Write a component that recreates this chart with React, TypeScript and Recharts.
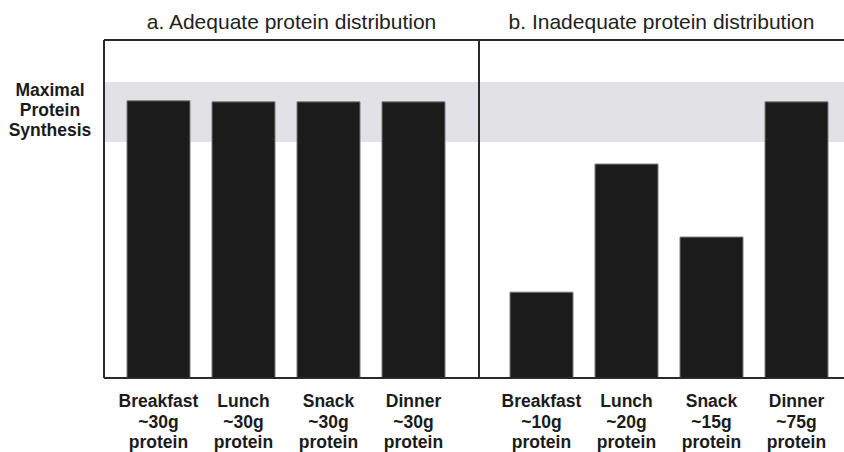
import React from 'react';
import { BarChart, Bar, XAxis, YAxis, ReferenceArea, ReferenceLine, Label } from 'recharts';

const meals = ['Breakfast', 'Lunch', 'Snack', 'Dinner'];
const adequateGrams = ['~30g', '~30g', '~30g', '~30g'];
const inadequateGrams = ['~10g', '~20g', '~15g', '~75g'];
const adequateSynthesis = [82, 81.7, 81.7, 81.7];
const inadequateSynthesis = [25.4, 63.3, 41.7, 81.7];
const synthesisBand = [69.8, 87.6];
const bandLabel = ['Maximal', 'Protein', 'Synthesis'];
const panelTitles = ['a. Adequate protein distribution', 'b. Inadequate protein distribution'];

const FONT = '"Liberation Sans", Arial, Helvetica, sans-serif';
const INK = '#1b1b1b';

const buildData = (values: number[], grams: string[]) =>
  meals.map((m, i) => ({ meal: m, grams: grams[i], value: values[i] }));

const adequateData = buildData(adequateSynthesis, adequateGrams);
const inadequateData = buildData(inadequateSynthesis, inadequateGrams);

const makeTick = (data: { meal: string; grams: string }[]) => (props: any) => {
  const { x, y, index } = props;
  const d = data[index];
  return (
    <text x={x} textAnchor="middle" fontFamily={FONT} fontWeight="bold" fontSize={17.5} fill={INK}>
      <tspan x={x} y={y + 28.5}>{d.meal}</tspan>
      <tspan x={x} y={y + 49.5}>{d.grams}</tspan>
      <tspan x={x} y={y + 70}>protein</tspan>
    </text>
  );
};

const BandLabel = (props: any) => {
  const vb = props.viewBox || {};
  const cy = vb.y + vb.height / 2;
  return (
    <text x={50} textAnchor="middle" fontFamily={FONT} fontWeight="bold" fontSize={17.5} fill={INK}>
      <tspan x={50} y={cy - 16}>{bandLabel[0]}</tspan>
      <tspan x={50} y={cy + 4}>{bandLabel[1]}</tspan>
      <tspan x={50} y={cy + 24}>{bandLabel[2]}</tspan>
    </text>
  );
};

const TitleLabel = (text: string) => (props: any) => {
  const vb = props.viewBox || {};
  const cx = vb.x + (vb.width || 0) / 2;
  return (
    <text x={cx} y={vb.y - 11} textAnchor="middle" fontFamily={FONT} fontSize={21} fill="#222">
      {text}
    </text>
  );
};

interface PanelProps {
  data: { meal: string; grams: string; value: number }[];
  width: number;
  yAxisWidth: number;
  padding: { left: number; right: number };
  title: string;
  showBandLabel: boolean;
}

const Panel = ({ data, width, yAxisWidth, padding, title, showBandLabel }: PanelProps) => (
  <BarChart
    width={width}
    height={452}
    data={data}
    margin={{ top: 40, right: 0, bottom: 0, left: 0 }}
    barSize={63}
  >
    <XAxis xAxisId="full" dataKey="meal" hide />
    <ReferenceArea
      xAxisId="full"
      y1={synthesisBand[0]}
      y2={synthesisBand[1]}
      fill="#e2e1e5"
      fillOpacity={1}
      stroke="none"
    >
      {showBandLabel ? <Label content={BandLabel} /> : null}
    </ReferenceArea>
    <XAxis
      dataKey="meal"
      height={74}
      padding={padding}
      tickLine={false}
      tickSize={0}
      tickMargin={0}
      axisLine={{ stroke: '#2a2a2a', strokeWidth: 2 }}
      tick={makeTick(data)}
      interval={0}
    />
    <YAxis
      width={yAxisWidth}
      domain={[0, 100]}
      tick={false}
      tickLine={false}
      axisLine={{ stroke: '#2a2a2a', strokeWidth: 2 }}
      allowDataOverflow
    />
    <ReferenceLine y={100} stroke="#2a2a2a" strokeWidth={2}>
      <Label content={TitleLabel(title)} />
    </ReferenceLine>
    <Bar dataKey="value" fill={INK} stroke="#7a7a7a" strokeWidth={1} isAnimationActive={false} />
  </BarChart>
);

export default function App() {
  return (
    <div style={{ position: 'absolute', left: 0, top: 0, width: 844, height: 452, background: '#fff', overflow: 'hidden' }}>
      <div style={{ position: 'absolute', left: 0, top: 0 }}>
        <Panel
          data={adequateData}
          width={479}
          yAxisWidth={104}
          padding={{ left: 12, right: 23 }}
          title={panelTitles[0]}
          showBandLabel={true}
        />
      </div>
      <div style={{ position: 'absolute', left: 469, top: 0 }}>
        <Panel
          data={inadequateData}
          width={375}
          yAxisWidth={10}
          padding={{ left: 20, right: 5 }}
          title={panelTitles[1]}
          showBandLabel={false}
        />
      </div>
    </div>
  );
}
